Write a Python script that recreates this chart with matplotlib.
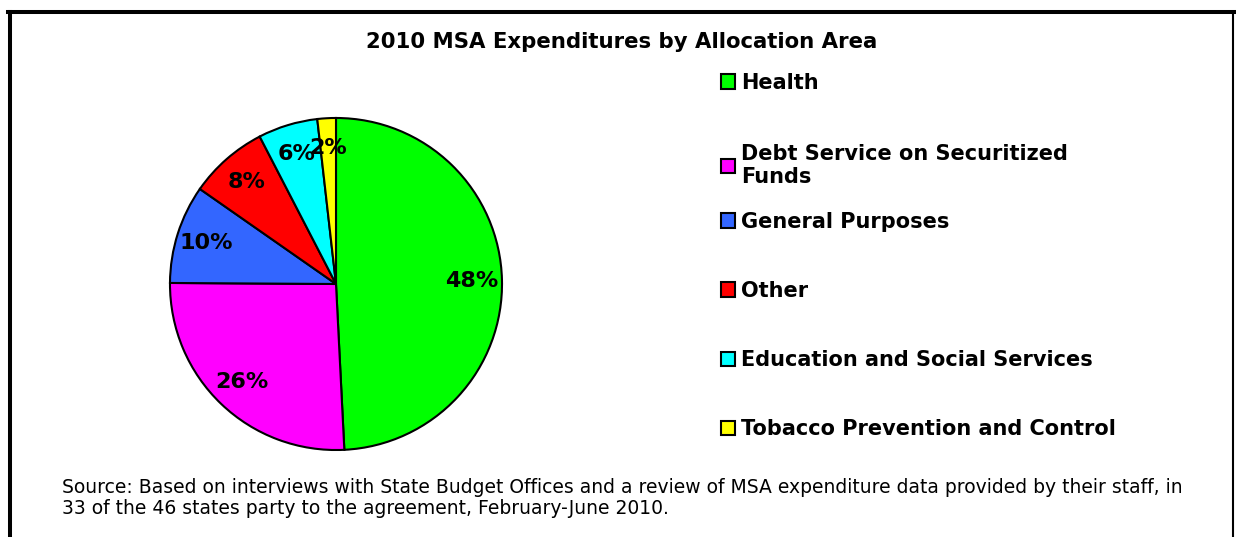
import matplotlib.pyplot as plt
from matplotlib.lines import Line2D

# --- data ---
areas = ["Health", "Debt Service on Securitized\nFunds", "General Purposes",
         "Other", "Education and Social Services", "Tobacco Prevention and Control"]
# slice sizes as drawn in the picture, and the printed percentage labels
shares = [49.2, 25.9, 9.6, 7.7, 5.8, 1.8]
pct_labels = ["48%", "26%", "10%", "8%", "6%", "2%"]
colors = ["#00FF00", "#FF00FF", "#3366FF", "#FF0000", "#00FFFF", "#FFFF00"]
title = "2010 MSA Expenditures by Allocation Area"
source = ("Source: Based on interviews with State Budget Offices and a review of MSA expenditure data provided by their staff, in\n"
          "33 of the 46 states party to the agreement, February-June 2010.")

W, H = 1236, 537
fig = plt.figure(figsize=(W / 100, H / 100), dpi=100)
fig.patch.set_facecolor("white")

# pie axes, centre ~ (336, 284) px, radius ~166 px
cx, cy, r = 336, 284, 170
ax = fig.add_axes([(cx - r) / W, (H - cy - r) / H, 2 * r / W, 2 * r / H])
wedges, texts, autotexts = ax.pie(
    shares, colors=colors, startangle=90, counterclock=False,
    autopct="%.0f%%", pctdistance=0.82,
    wedgeprops=dict(edgecolor="black", linewidth=1.5),
    textprops=dict(fontsize=16, fontweight="bold", color="black"))
for t, s in zip(autotexts, pct_labels):
    t.set_text(s)
ax.set_xlim(-1.024, 1.024)
ax.set_ylim(-1.024, 1.024)
ax.set_aspect("equal")

fig.text(622 / W, 1 - 42 / H, title, ha="center", va="center",
         fontsize=15.3, fontweight="bold")

# legend in two blocks so the wrapped entry does not push the rest down
leg_kw = dict(loc="upper left", frameon=False, prop=dict(size=15, weight="bold"),
              handlelength=0.68, handleheight=0.68, handletextpad=0.3)
leg1 = fig.legend(wedges[:2], areas[:2], bbox_to_anchor=(702 / W, 1 - 54 / H),
                  labelspacing=2.45, **leg_kw)
leg2 = fig.legend(wedges[2:], areas[2:], bbox_to_anchor=(702 / W, 1 - 193 / H),
                  labelspacing=2.36, **leg_kw)
for leg in (leg1, leg2):
    for h in leg.legend_handles:
        h.set_linewidth(1.5)
        h.set_edgecolor("black")

fig.text(62 / W, 1 - 498 / H, source, ha="left", va="center",
         fontsize=13.5, linespacing=1.08)

# outer frame (left, top, right)
fig.add_artist(Line2D([10 / W, 10 / W], [0, 1 - 12 / H], color="black", lw=2.9))
fig.add_artist(Line2D([8 / W, 1234 / W], [1 - 12 / H, 1 - 12 / H], color="black", lw=2.9))
fig.add_artist(Line2D([1233 / W, 1233 / W], [0, 1 - 12 / H], color="black", lw=1.5))

fig.savefig("out.png", dpi=100)
